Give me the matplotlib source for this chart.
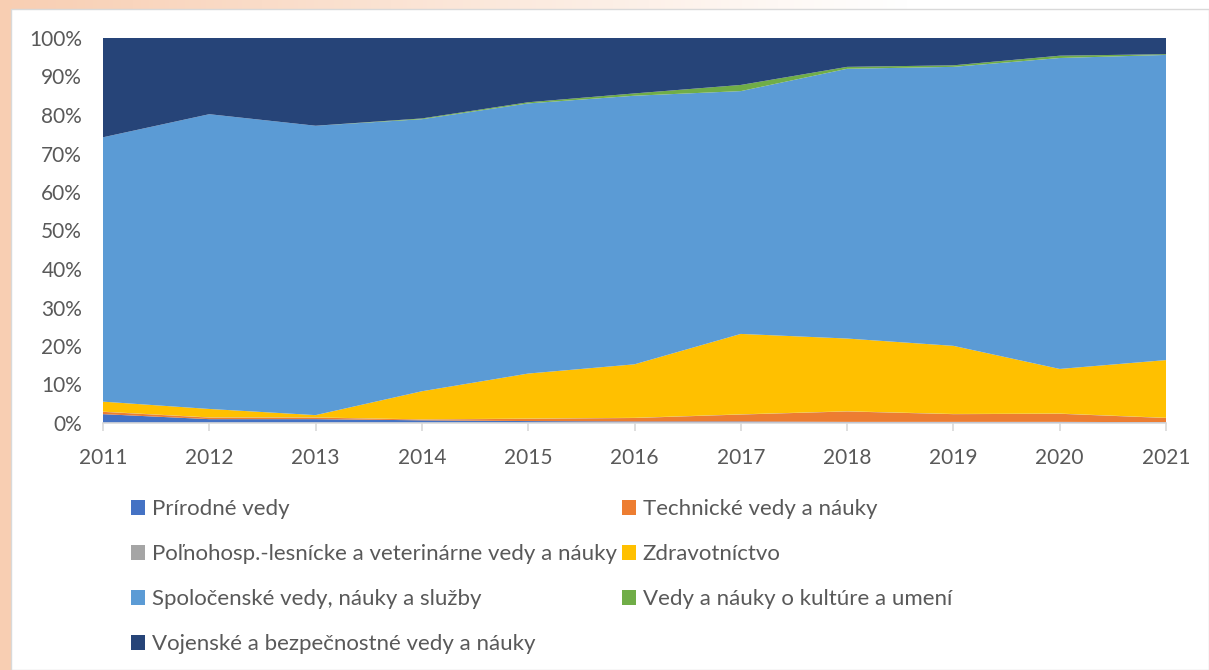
import numpy as np
import matplotlib
matplotlib.use("Agg")
import matplotlib.pyplot as plt
from matplotlib.ticker import FuncFormatter, MultipleLocator
from matplotlib.patches import Rectangle

plt.rcParams['font.family'] = ['Lato', 'DejaVu Sans']

years = [2011, 2012, 2013, 2014, 2015, 2016, 2017, 2018, 2019, 2020, 2021]

categories = [
    "Prírodné vedy",
    "Technické vedy a náuky",
    "Poľnohosp.-lesnícke a veterinárne vedy a náuky",
    "Zdravotníctvo",
    "Spoločenské vedy, náuky a služby",
    "Vedy a náuky o kultúre a umení",
    "Vojenské a bezpečnostné vedy a náuky",
]

prirodne      = [2.3, 1.0, 1.0, 0.7, 0.5, 0.4, 0.4, 0.3, 0.3, 0.3, 0.2]
technicke     = [0.6, 0.4, 0.4, 0.2, 0.6, 0.9, 1.8, 2.7, 2.0, 2.1, 1.1]
polnohosp     = [0.05, 0.05, 0.05, 0.05, 0.05, 0.05, 0.05, 0.05, 0.05, 0.05, 0.05]
zdravotnictvo = [2.6, 2.2, 0.6, 7.3, 11.7, 13.9, 20.9, 18.9, 17.7, 11.6, 15.0]
spolocenske   = [68.7, 76.6, 75.2, 70.7, 70.2, 69.8, 63.1, 70.1, 72.5, 80.8, 79.3]
kultura       = [0.0, 0.0, 0.0, 0.2, 0.3, 0.6, 1.6, 0.5, 0.4, 0.6, 0.2]
vojenske      = [25.8, 19.8, 22.8, 20.9, 16.7, 14.4, 12.2, 7.5, 7.1, 4.6, 4.2]

colors = ["#4472C4", "#ED7D31", "#A5A5A5", "#FFC000", "#5B9BD5", "#70AD47", "#264478"]

series = np.array([prirodne, technicke, polnohosp, zdravotnictvo,
                   spolocenske, kultura, vojenske], dtype=float)
shares = series / series.sum(axis=0)

W, H = 1209, 670
fig = plt.figure(figsize=(W / 100, H / 100), dpi=100)

# background: peach strips at left and top
bg = fig.add_axes([0, 0, 1, 1], zorder=-10)
bg.set_axis_off()
gx = np.linspace(0, 1, 300)
peach = np.array([248, 206, 178]) / 255.0
white = np.array([1.0, 1.0, 1.0])
t = np.clip(gx / 0.75, 0, 1)[None, :, None]
grad = peach[None, None, :] * (1 - t) + white[None, None, :] * t
bg.imshow(np.repeat(grad, 2, axis=0), aspect='auto', extent=[0, 1, 0, 1])
bg.add_patch(Rectangle((0, 0), 11 / W, 1, transform=bg.transAxes,
                       facecolor=peach, edgecolor='none'))
bg.add_patch(Rectangle((11 / W, 0), 1 - 11 / W, 1 - 9 / H, transform=bg.transAxes,
                       facecolor='white', edgecolor='#d9d9d9', linewidth=1))
bg.set_xlim(0, 1)
bg.set_ylim(0, 1)

left, right, top, bottom = 103, 1166, 38, 423
ax = fig.add_axes([left / W, 1 - bottom / H, (right - left) / W, (bottom - top) / H])
polys = ax.stackplot(years, shares, colors=colors, labels=categories, linewidth=0)

ax.set_xlim(years[0], years[-1])
ax.set_ylim(0, 1)
ax.set_xticks(years)
ax.set_xticklabels([str(y) for y in years])
ax.yaxis.set_major_locator(MultipleLocator(0.1))
ax.yaxis.set_major_formatter(FuncFormatter(lambda v, p: f"{int(round(v * 100))}%"))

for s in ['top', 'right', 'left']:
    ax.spines[s].set_visible(False)
ax.spines['bottom'].set_color('#d9d9d9')
ax.spines['bottom'].set_linewidth(1.2)
ax.tick_params(axis='x', direction='out', length=6, width=1.2, color='#d9d9d9',
               labelsize=15, labelcolor='#595959', pad=12)
ax.tick_params(axis='y', length=0, labelsize=15, labelcolor='#595959', pad=15)
ax.set_facecolor('white')

order = [0, 2, 4, 6, 1, 3, 5]
handles = [polys[i] for i in order]
labels = [categories[i] for i in order]
fig.legend(handles, labels, loc='upper left', bbox_to_anchor=(131 / W, 1 - 499 / H),
           ncol=2, frameon=False, fontsize=16, labelcolor='#595959',
           handlelength=0.65, handleheight=0.65, handletextpad=0.3,
           labelspacing=1.13, columnspacing=0.2, borderpad=0, borderaxespad=0)

fig.savefig("out.png", dpi=100)
